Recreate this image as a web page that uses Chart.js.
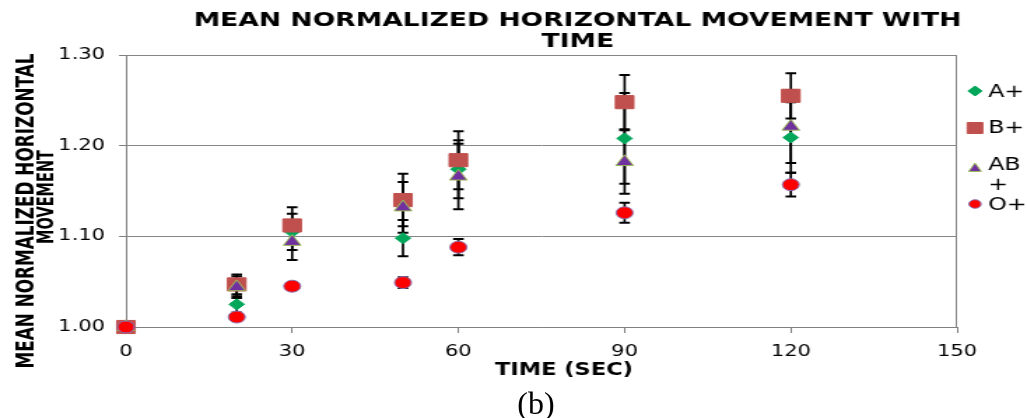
<!DOCTYPE html>
<html><head><meta charset="utf-8">
<script src="https://cdn.jsdelivr.net/npm/chart.js@4/dist/chart.umd.min.js"></script>
<style>
html,body{margin:0;padding:0;background:#fff;overflow:hidden}
#wrap{position:relative;width:1027px;height:418px;background:#fff}
#c{position:absolute;left:0;top:0}
#cap{position:absolute;left:486px;top:387px;width:100px;text-align:center;font:32px/32px "Liberation Serif","Times New Roman",serif;color:#000}
</style></head><body>
<div id="wrap"><canvas id="c" width="734" height="418" style="width:1027px;height:418px"></canvas><div id="cap">(b)</div></div>
<script>
// ---- data ----
const times = [0, 20, 30, 50, 60, 90, 120];
const seriesNames = ['A+', 'B+', 'AB+', 'O+'];
const aPlus  = [1.000, 1.025, 1.105, 1.098, 1.174, 1.208, 1.209];
const bPlus  = [1.000, 1.047, 1.112, 1.140, 1.184, 1.248, 1.255];
const abPlus = [1.000, 1.044, 1.094, 1.132, 1.166, 1.182, 1.221];
const oPlus  = [1.000, 1.011, 1.045, 1.049, 1.088, 1.126, 1.157];
const aPlusErr  = [0, 0.009, 0.020, 0.020, 0.032, 0.050, 0.039];
const bPlusErr  = [0, 0.011, 0.020, 0.029, 0.032, 0.030, 0.025];
const abPlusErr = [0, 0.012, 0.020, 0.028, 0.036, 0.035, 0.040];
const oPlusErr  = [0, 0.003, 0.004, 0.006, 0.009, 0.011, 0.013];
const xTicks = [0, 30, 60, 90, 120, 150];
const yTicks = [1.00, 1.10, 1.20, 1.30];
const titleLines = ['MEAN NORMALIZED HORIZONTAL MOVEMENT WITH', 'TIME'];
const xTitle = 'TIME (SEC)';
const yTitleLines = ['MEAN NORMALIZED HORIZONTAL', 'MOVEMENT'];

const SX = 1027 / 734; // horizontal stretch of canvas to page

function pts(vals, errs) { return times.map((t, i) => ({x: t, y: vals[i], e: errs[i]})); }

const errorBars = {
  id: 'errorBars',
  beforeDatasetsDraw(chart) {
    const {ctx, chartArea: a} = chart;
    ctx.save();
    // plot frame
    ctx.strokeStyle = '#868686';
    ctx.lineWidth = 1;
    ctx.beginPath();
    ctx.moveTo(a.left, a.top + 0.5); ctx.lineTo(a.right, a.top + 0.5);
    ctx.moveTo(a.right - 0.5, a.top); ctx.lineTo(a.right - 0.5, a.bottom);
    ctx.stroke();
    const xs = chart.scales.x, ys = chart.scales.y;
    ctx.strokeStyle = '#000';
    chart.data.datasets.forEach(ds => {
      ds.data.forEach(p => {
        if (!p.e) return;
        const x = xs.getPixelForValue(p.x);
        const y1 = ys.getPixelForValue(p.y + p.e);
        const y2 = ys.getPixelForValue(p.y - p.e);
        ctx.lineWidth = 1.7;
        ctx.beginPath(); ctx.moveTo(x, y1); ctx.lineTo(x, y2); ctx.stroke();
        ctx.lineWidth = 2;
        ctx.beginPath();
        ctx.moveTo(x - 3.8, y1); ctx.lineTo(x + 3.8, y1);
        ctx.moveTo(x - 3.8, y2); ctx.lineTo(x + 3.8, y2);
        ctx.stroke();
      });
    });
    ctx.restore();
  }
};

const texts = {
  id: 'texts',
  afterDraw(chart) {
    const ctx = chart.ctx;
    ctx.save();
    ctx.fillStyle = '#000';
    ctx.textAlign = 'center';
    ctx.textBaseline = 'alphabetic';
    ctx.font = 'bold 19px "DejaVu Sans"';
    ctx.fillText(titleLines[0], 412.8, 26, 549);
    ctx.fillText(titleLines[1], 413, 47);
    ctx.font = 'bold 17px "DejaVu Sans"';
    ctx.fillText(xTitle, 403, 375, 98.6);
    ctx.save();
    ctx.translate(23.8, 211); ctx.rotate(-Math.PI / 2);
    ctx.font = 'bold 18px "DejaVu Sans"';
    ctx.fillText(yTitleLines[0], 0, 0, 315);
    ctx.restore();
    ctx.save();
    ctx.translate(38.2, 197); ctx.rotate(-Math.PI / 2);
    ctx.font = 'bold 16.5px "DejaVu Sans"';
    ctx.fillText(yTitleLines[1], 0, 0, 94);
    ctx.restore();

    // legend
    const mx = 975 / SX, tx = 988 / SX;
    const base = [97, 133, 170, 210];
    const mcy = [91, 128, 168, 204];
    ctx.textAlign = 'left';
    ctx.font = '17px "DejaVu Sans"';
    chart.data.datasets.forEach((ds, i) => {
      const lab = ds.label;
      const lines = lab.length > 2 ? [lab.slice(0, 2), lab.slice(2)] : [lab];
      lines.forEach((ln, k) => ctx.fillText(ln, tx, base[i] + k * 20));
      const y = mcy[i];
      ctx.fillStyle = ds.backgroundColor;
      ctx.strokeStyle = ds.borderColor;
      ctx.lineWidth = 1;
      ctx.beginPath();
      if (ds.pointStyle === 'rectRot') {
        ctx.moveTo(mx, y - 5); ctx.lineTo(mx + 5, y); ctx.lineTo(mx, y + 5); ctx.lineTo(mx - 5, y); ctx.closePath();
      } else if (ds.pointStyle === 'rect') {
        ctx.rect(mx - 5.5, y - 5.5, 11, 11);
      } else if (ds.pointStyle === 'triangle') {
        ctx.moveTo(mx, y - 5); ctx.lineTo(mx + 4.5, y + 3.5); ctx.lineTo(mx - 4.5, y + 3.5); ctx.closePath();
      } else {
        ctx.arc(mx, y, 4.3, 0, Math.PI * 2);
      }
      ctx.fill();
      ctx.stroke();
      ctx.fillStyle = '#000';
    });
    ctx.restore();
  }
};

new Chart(document.getElementById('c'), {
  type: 'scatter',
  data: {
    datasets: [
      {label: seriesNames[0], data: pts(aPlus, aPlusErr), pointStyle: 'rectRot', pointRadius: 5.5,
       backgroundColor: '#00a65a', borderColor: '#00a65a', borderWidth: 1, order: 4, clip: false},
      {label: seriesNames[1], data: pts(bPlus, bPlusErr), pointStyle: 'rect', pointRadius: 9.3,
       backgroundColor: '#c0504d', borderColor: '#c0504d', borderWidth: 1, order: 3, clip: false},
      {label: seriesNames[2], data: pts(abPlus, abPlusErr), pointStyle: 'triangle', pointRadius: 7.2,
       backgroundColor: '#7030a0', borderColor: '#9bbb59', borderWidth: 1, order: 2, clip: false},
      {label: seriesNames[3], data: pts(oPlus, oPlusErr), pointStyle: 'circle', pointRadius: 6,
       backgroundColor: '#ff0000', borderColor: '#8a6fb0', borderWidth: 1, order: 1, clip: false}
    ]
  },
  options: {
    responsive: false,
    animation: false,
    devicePixelRatio: 1,
    layout: {padding: {left: 0, right: 50, top: 55, bottom: 0}},
    plugins: {legend: {display: false}, title: {display: false}, tooltip: {enabled: false}},
    events: [],
    scales: {
      x: {
        type: 'linear', min: xTicks[0], max: xTicks[xTicks.length - 1],
        afterFit: s => { s.height = 91; },
        afterBuildTicks: s => { s.ticks = xTicks.map(v => ({value: v})); },
        ticks: {font: {family: 'DejaVu Sans', size: 15}, color: '#000', padding: 10, callback: v => String(v)},
        grid: {drawOnChartArea: false, drawTicks: true, tickLength: 6, tickColor: '#808080'},
        border: {color: '#808080', width: 1}
      },
      y: {
        type: 'linear', min: yTicks[0], max: yTicks[yTicks.length - 1],
        afterFit: s => { s.width = 90; },
        afterBuildTicks: s => { s.ticks = yTicks.map(v => ({value: v})); },
        ticks: {font: {family: 'DejaVu Sans', size: 15}, color: '#000', padding: 10, callback: v => Number(v).toFixed(2)},
        grid: {color: '#868686', lineWidth: 1, drawTicks: true, tickLength: 5, tickColor: '#808080'},
        border: {color: '#808080', width: 1}
      }
    }
  },
  plugins: [errorBars, texts]
});
</script>
</body></html>
